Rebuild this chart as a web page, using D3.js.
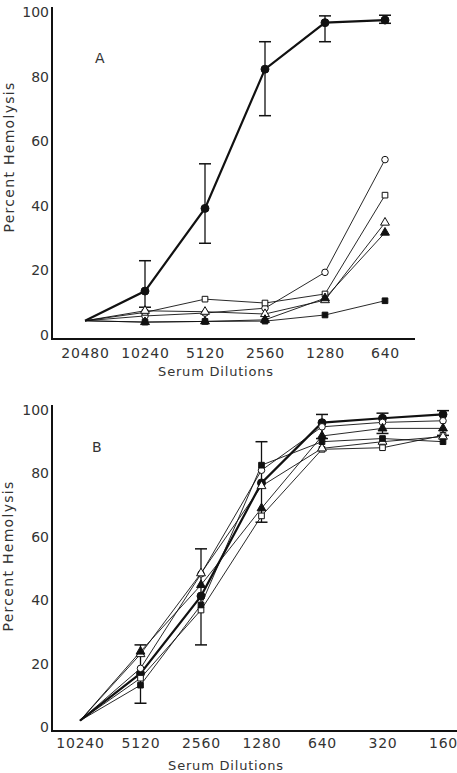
<!DOCTYPE html>
<html>
<head>
<meta charset="utf-8">
<script src="https://cdn.jsdelivr.net/npm/d3@7/dist/d3.min.js"></script>
<style>
  body { margin: 0; background: #fff; }
  text { font-family: "DejaVu Sans", sans-serif; fill: #333; }
</style>
</head>
<body>
<svg id="chart" width="457" height="773"></svg>
<script>
// dilutions (x categories) and tick labels
var catsA = ["20480", "10240", "5120", "2560", "1280", "640"];
var catsB = ["10240", "5120", "2560", "1280", "640", "320", "160"];
var yTicks = [0, 20, 40, 60, 80, 100];

// panel A, percent hemolysis
var aFilledCircle   = [4.4, 13.6, 39.2, 82.3, 96.7, 97.5];
var aErrLow         = [null, 8.6, 28.4, 67.9, 90.8, 96.5];
var aErrHigh        = [null, 23, 53, 90.8, 98.8, 99];
var aOpenCircle     = [4.4, 5.9, 6.8, 8.3, 19.4, 54.3];
var aOpenSquare     = [4.4, 7, 11.1, 9.9, 12.7, 43.3];
var aOpenTriangle   = [4.4, 7.5, 7.2, 6.5, 10.8, 34.8];
var aFilledTriangle = [4.4, 4, 4.2, 4.7, 11.4, 31.7];
var aFilledSquare   = [4.4, 4, 4.2, 4.3, 6.2, 10.6];

// panel B
var bFilledCircle   = [2, 16.9, 41.3, 77, 96, 97.4, 98.6];
var bErrLow         = [null, 7.5, 25.9, 64.6, 91, 92.6, 92];
var bErrHigh        = [null, 25.9, 56.2, 90, 98.6, 99, 99.8];
var bOpenCircle     = [2, 18.5, 48.3, 81, 94.7, 96.1, 96.6];
var bOpenSquare     = [2, 15.4, 36.9, 66.6, 87.6, 88.1, 92];
var bOpenTriangle   = [2, 23, 48.5, 76, 87.9, 90, 91.6];
var bFilledTriangle = [2, 23.8, 44.8, 69, 91.8, 94.2, 94.2];
var bFilledSquare   = [2, 13.2, 38.5, 82.6, 90, 91, 90];

var svg = d3.select("#chart");

function drawPanel(opt) {
  var x = d3.scalePoint().domain(opt.cats).range(opt.xRange);
  var y = d3.scaleLinear().domain([0, 100]).range(opt.yRange);
  var g = svg.append("g");
  var base = y(0) + 4;

  // axes
  var ya = g.append("g")
    .attr("transform", "translate(" + opt.axisX + ",0)")
    .call(d3.axisLeft(y).tickValues(yTicks).tickSize(0).tickPadding(3));
  ya.select(".domain").remove();
  ya.selectAll("text").style("font-size", "14px").attr("fill", "#333");

  var xa = g.append("g")
    .attr("transform", "translate(0," + base + ")")
    .call(d3.axisBottom(x).tickSize(0).tickPadding(opt.tickPad));
  xa.select(".domain").remove();
  xa.selectAll("text")
    .style("font-size", "14px")
    .style("letter-spacing", "0.8px")
    .attr("fill", "#333");

  g.append("line")
    .attr("x1", opt.axisX).attr("x2", opt.axisX)
    .attr("y1", base).attr("y2", y(100) - 5)
    .attr("stroke", "#111").attr("stroke-width", 2);
  g.append("line")
    .attr("x1", opt.axisX - 1).attr("x2", opt.axisEnd)
    .attr("y1", base).attr("y2", base)
    .attr("stroke", "#111").attr("stroke-width", 2);

  g.append("text")
    .attr("x", opt.titleX).attr("y", base + opt.titleDy)
    .attr("text-anchor", "middle")
    .style("font-size", "13px")
    .style("letter-spacing", "0.8px")
    .text("Serum Dilutions");

  g.append("text")
    .attr("transform", "translate(" + opt.ylabX + "," + opt.ylabY + ") rotate(-90)")
    .attr("text-anchor", "middle")
    .style("font-size", "14px")
    .style("letter-spacing", "1.3px")
    .attr("fill", "#555")
    .text("Percent Hemolysis");

  g.append("text")
    .attr("x", opt.letterX).attr("y", opt.letterY)
    .style("font-size", "14px")
    .text(opt.letter);

  var line = d3.line()
    .x(function(d, i) { return x(opt.cats[i]); })
    .y(function(d) { return y(d); });

  // thin lines first, thick one on top
  opt.series.slice().sort(function(a, b) { return a.thick - b.thick; })
    .forEach(function(s) {
      g.append("path")
        .attr("d", line(s.values))
        .attr("fill", "none")
        .attr("stroke", "#111")
        .attr("stroke-width", s.thick ? 2.2 : 0.9);
    });

  // error bars on the thick series
  opt.errLow.forEach(function(lo, i) {
    if (lo == null) return;
    var hi = opt.errHigh[i];
    var cx = x(opt.cats[i]);
    g.append("line").attr("x1", cx).attr("x2", cx)
      .attr("y1", y(lo)).attr("y2", y(hi))
      .attr("stroke", "#111").attr("stroke-width", 1.3);
    [lo, hi].forEach(function(v) {
      g.append("line").attr("x1", cx - 6).attr("x2", cx + 6)
        .attr("y1", y(v)).attr("y2", y(v))
        .attr("stroke", "#111").attr("stroke-width", 1.5);
    });
  });

  // markers (no marker at the first, converging point)
  opt.series.forEach(function(s) {
    var sym = d3.symbol()
      .type(s.shape == "circle" ? d3.symbolCircle :
            s.shape == "square" ? d3.symbolSquare : d3.symbolTriangle)
      .size(s.shape == "circle" ? (s.thick ? 50 : 34) : s.shape == "square" ? 32 : 34);
    g.selectAll(null)
      .data(s.values.slice(1))
      .enter()
      .append("path")
      .attr("d", sym)
      .attr("transform", function(d, i) {
        return "translate(" + x(opt.cats[i + 1]) + "," + y(d) + ")";
      })
      .attr("fill", s.filled ? "#111" : "#fff")
      .attr("stroke", "#111")
      .attr("stroke-width", 1);
  });
}

drawPanel({
  cats: catsA, xRange: [85, 385], yRange: [335, 12],
  axisX: 52, axisEnd: 415, titleX: 216, tickPad: 9, titleDy: 37,
  ylabX: 14, ylabY: 157, letter: "A", letterX: 95, letterY: 63,
  errLow: aErrLow, errHigh: aErrHigh,
  series: [
    { values: aFilledCircle, shape: "circle", filled: true, thick: true },
    { values: aOpenCircle, shape: "circle", filled: false, thick: false },
    { values: aOpenSquare, shape: "square", filled: false, thick: false },
    { values: aOpenTriangle, shape: "triangle", filled: false, thick: false },
    { values: aFilledTriangle, shape: "triangle", filled: true, thick: false },
    { values: aFilledSquare, shape: "square", filled: true, thick: false }
  ]
});

drawPanel({
  cats: catsB, xRange: [80, 443], yRange: [727, 410],
  axisX: 52, axisEnd: 457, titleX: 226, tickPad: 7, titleDy: 39,
  ylabX: 13, ylabY: 556, letter: "B", letterX: 92, letterY: 452,
  errLow: bErrLow, errHigh: bErrHigh,
  series: [
    { values: bFilledCircle, shape: "circle", filled: true, thick: true },
    { values: bOpenCircle, shape: "circle", filled: false, thick: false },
    { values: bOpenSquare, shape: "square", filled: false, thick: false },
    { values: bOpenTriangle, shape: "triangle", filled: false, thick: false },
    { values: bFilledTriangle, shape: "triangle", filled: true, thick: false },
    { values: bFilledSquare, shape: "square", filled: true, thick: false }
  ]
});
</script>
</body>
</html>
